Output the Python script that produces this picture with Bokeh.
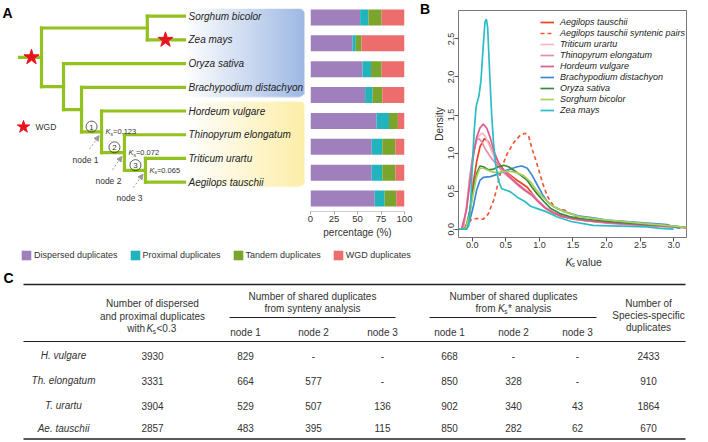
import numpy as np
from bokeh.plotting import figure
from bokeh.layouts import row, column
from bokeh.models import (Range1d, FactorRange, Legend, LegendItem, Arrow,
                          NormalHead, FixedTicker, NumeralTickFormatter, ColumnDataSource)
from bokeh.core.properties import value
from bokeh.embed import file_html
from bokeh.resources import INLINE

FONT = "Liberation Sans"
TXT = "#222222"

# ---------------- data: panel A ----------------
species = ["Sorghum bicolor", "Zea mays", "Oryza sativa", "Brachypodium distachyon",
           "Hordeum vulgare", "Thinopyrum elongatum", "Triticum urartu", "Aegilops tauschii"]
dup_types = ["Dispersed duplicates", "Proximal duplicates", "Tandem duplicates", "WGD duplicates"]
dispersed = [52.8, 44.7, 55.3, 58.1, 70.4, 65.1, 65.1, 68.3]
proximal = [8.8, 3.5, 9.1, 7.7, 13.1, 11.3, 11.3, 10.6]
tandem = [14.1, 6.0, 11.3, 10.6, 9.5, 14.1, 14.1, 12.3]
wgd = [24.3, 45.8, 24.3, 23.6, 7.0, 9.5, 9.5, 8.8]
dup_colors = ["#a07fbd", "#22b4bd", "#7ba42c", "#ec6d6c"]
pct_ticks = [0, 25, 50, 75, 100]

# tree: (node, children, depth)   depth: root = 0, tips = 1
tree_nodes = [
    ("root", ["SbZm", "lower"], 0.0),
    ("SbZm", ["Sorghum bicolor", "Zea mays"], 0.74),
    ("lower", ["Oryza sativa", "BdClade"], 0.154),
    ("BdClade", ["Brachypodium distachyon", "node1"], 0.28),
    ("node1", ["Hordeum vulgare", "node2"], 0.42),
    ("node2", ["Thinopyrum elongatum", "node3"], 0.58),
    ("node3", ["Triticum urartu", "Aegilops tauschii"], 0.727),
]
root_stem = -0.154
wgd_events = [("root", -0.07), ("Zea mays", 0.867)]
ks_nodes = ["node1", "node2", "node3"]
ks_values = ["0.123", "0.072", "0.065"]
node_names = ["node 1", "node 2", "node 3"]
node_numbers = ["1", "2", "3"]

# ---------------- data: panel B ----------------
ks_x_aet = [-0.2, -0.12, -0.06, -0.03, 0.015, 0.065, 0.115, 0.18, 0.24, 0.29, 0.37, 0.44, 0.54, 0.64, 0.74,
            0.82, 0.89, 0.97, 1.07, 1.17, 1.32, 1.47, 1.6, 1.8, 2.0, 2.3, 2.6, 2.9, 3.2]
ks_y_aet = [0.0, 0.0, 0.1, 0.25, 0.6, 0.88, 1.08, 1.19, 1.15, 1.04, 0.88, 0.80, 0.73, 0.66, 0.60,
            0.55, 0.47, 0.38, 0.29, 0.23, 0.17, 0.14, 0.12, 0.10, 0.09, 0.07, 0.06, 0.04, 0.02]
ks_x_syn = [-0.2, -0.11, -0.06, -0.01, 0.065, 0.165, 0.24, 0.32, 0.37, 0.44, 0.52, 0.62, 0.72, 0.79, 0.84,
            0.89, 0.97, 1.05, 1.12, 1.2, 1.27, 1.37, 1.47, 1.61, 1.8, 2.0, 2.3, 2.6, 2.9, 3.2]
ks_y_syn = [0.0, 0.0, 0.07, 0.13, 0.14, 0.13, 0.2, 0.38, 0.55, 0.81, 0.99, 1.14, 1.24, 1.26, 1.22,
            1.06, 0.84, 0.6, 0.43, 0.32, 0.27, 0.25, 0.2, 0.14, 0.12, 0.1, 0.08, 0.06, 0.04, 0.02]
ks_x_tur = [-0.2, -0.135, -0.085, -0.035, 0.015, 0.065, 0.14, 0.19, 0.27, 0.34, 0.42, 0.49, 0.59, 0.69,
            0.79, 0.89, 0.99, 1.1, 1.22, 1.37, 1.5, 1.7, 2.0, 2.3, 2.6, 2.9, 3.2]
ks_y_tur = [0.0, 0.0, 0.29, 0.67, 1.0, 1.19, 1.26, 1.23, 1.07, 0.92, 0.84, 0.76, 0.67, 0.59,
            0.52, 0.46, 0.37, 0.28, 0.22, 0.17, 0.14, 0.11, 0.09, 0.07, 0.05, 0.04, 0.02]
ks_x_tel = [-0.2, -0.135, -0.085, -0.035, 0.015, 0.065, 0.1, 0.14, 0.19, 0.27, 0.37, 0.47, 0.59, 0.69,
            0.79, 0.89, 0.99, 1.1, 1.22, 1.37, 1.5, 1.7, 2.0, 2.3, 2.6, 2.9, 3.2]
ks_y_tel = [0.0, 0.0, 0.29, 0.69, 1.0, 1.17, 1.19, 1.15, 1.06, 0.95, 0.84, 0.74, 0.65, 0.57,
            0.5, 0.44, 0.35, 0.27, 0.21, 0.16, 0.13, 0.11, 0.08, 0.06, 0.05, 0.03, 0.02]
ks_x_hvu = [-0.2, -0.16, -0.085, -0.035, 0.015, 0.065, 0.115, 0.165, 0.216, 0.27, 0.32, 0.39, 0.49, 0.59,
            0.69, 0.79, 0.89, 0.99, 1.1, 1.22, 1.37, 1.5, 1.7, 2.0, 2.3, 2.6, 2.9, 3.2]
ks_y_hvu = [0.0, 0.0, 0.25, 0.6, 0.95, 1.2, 1.33, 1.38, 1.33, 1.2, 1.03, 0.88, 0.75, 0.66,
            0.58, 0.51, 0.45, 0.36, 0.27, 0.21, 0.16, 0.14, 0.11, 0.09, 0.07, 0.05, 0.04, 0.02]
ks_x_bdi = [-0.2, -0.1, -0.035, 0.015, 0.065, 0.115, 0.165, 0.27, 0.37, 0.47, 0.57, 0.67, 0.74, 0.82,
            0.89, 0.97, 1.05, 1.12, 1.22, 1.37, 1.6, 1.8, 2.0, 2.3, 2.6, 2.9, 3.0, 3.1]
ks_y_bdi = [0.0, 0.0, 0.12, 0.29, 0.51, 0.64, 0.68, 0.69, 0.72, 0.76, 0.79, 0.82, 0.83, 0.8,
            0.71, 0.58, 0.45, 0.36, 0.29, 0.23, 0.17, 0.15, 0.12, 0.1, 0.08, 0.06, 0.03, 0.01]
ks_x_osa = [-0.2, -0.1, -0.035, 0.015, 0.065, 0.115, 0.165, 0.24, 0.32, 0.39, 0.47, 0.54, 0.64, 0.72,
            0.82, 0.89, 0.97, 1.07, 1.17, 1.32, 1.47, 1.6, 2.0, 2.5, 3.0, 3.2]
ks_y_osa = [0.0, 0.0, 0.25, 0.51, 0.73, 0.83, 0.82, 0.78, 0.79, 0.82, 0.84, 0.82, 0.76, 0.71,
            0.64, 0.55, 0.46, 0.36, 0.27, 0.2, 0.16, 0.14, 0.1, 0.07, 0.04, 0.02]
ks_x_sbi = [-0.2, -0.1, -0.035, 0.015, 0.065, 0.115, 0.165, 0.27, 0.37, 0.47, 0.57, 0.67, 0.77, 0.87,
            0.94, 1.02, 1.12, 1.22, 1.37, 1.47, 1.6, 2.0, 2.5, 3.0, 3.2]
ks_y_sbi = [0.0, 0.0, 0.2, 0.46, 0.69, 0.8, 0.8, 0.76, 0.74, 0.76, 0.76, 0.74, 0.7, 0.62,
            0.53, 0.45, 0.36, 0.29, 0.23, 0.2, 0.16, 0.12, 0.08, 0.04, 0.02]
ks_x_zma = [-0.2, -0.08, -0.05, -0.02, 0.0, 0.03, 0.06, 0.1, 0.13, 0.16, 0.19, 0.21, 0.23, 0.26, 0.29,
            0.32, 0.35, 0.39, 0.44, 0.57, 0.67, 0.79, 0.87, 0.97, 1.1, 1.27, 1.47, 1.8, 2.2, 2.6, 2.8, 3.0]
ks_y_zma = [0.0, 0.0, 0.05, 0.4, 0.8, 1.3, 1.62, 1.75, 1.95, 2.35, 2.72, 2.76, 2.65, 2.05, 1.5,
            1.1, 0.85, 0.64, 0.53, 0.49, 0.42, 0.36, 0.30, 0.27, 0.23, 0.16, 0.1, 0.05, 0.04, 0.03, 0.01, 0.0]
ks_names = ["Aegilops tauschii", "Aegilops tauschii syntenic pairs", "Triticum urartu",
            "Thinopyrum elongatum", "Hordeum vulgare", "Brachypodium distachyon",
            "Oryza sativa", "Sorghum bicolor", "Zea mays"]
ks_colors = ["#e8431f", "#ee5a33", "#f7b8c9", "#e68cb0", "#df5a8c", "#3f87d6", "#3a8a3c", "#a9d05c", "#2bbcc6"]
ks_dashes = ["solid", "4 3", "solid", "solid", "solid", "solid", "solid", "solid", "solid"]
ks_series = [(ks_x_aet, ks_y_aet), (ks_x_syn, ks_y_syn), (ks_x_tur, ks_y_tur), (ks_x_tel, ks_y_tel),
             (ks_x_hvu, ks_y_hvu), (ks_x_bdi, ks_y_bdi), (ks_x_osa, ks_y_osa), (ks_x_sbi, ks_y_sbi),
             (ks_x_zma, ks_y_zma)]
ks_xticks = [0.0, 0.5, 1.0, 1.5, 2.0, 2.5, 3.0]
dens_yticks = [0.0, 0.5, 1.0, 1.5, 2.0, 2.5]

# ---------------- data: panel C ----------------
tbl_species = ["H. vulgare", "Th. elongatum", "T. urartu", "Ae. tauschii"]
n_disp_prox = [3930, 3331, 3904, 2857]
syn_node1 = [829, 664, 529, 483]
syn_node2 = [None, 577, 507, 395]
syn_node3 = [None, None, 136, 115]
ksa_node1 = [668, 850, 902, 850]
ksa_node2 = [None, 328, 340, 282]
ksa_node3 = [None, None, 43, 62]
species_specific = [2433, 910, 1864, 670]


def bare(p):
    p.xgrid.visible = False
    p.ygrid.visible = False
    return p


# =============== Panel A : tree ===============
XU, YU = 143.0, 27.5          # screen px per tree unit / per leaf
GREEN = "#93c11f"
pT = bare(figure(width=306, height=240, x_range=Range1d(-41 / XU, 265 / XU), y_range=Range1d(-8.236, 0.491),
                 output_backend="svg", toolbar_location=None, x_axis_location=None, y_axis_location=None,
                 min_border=0, outline_line_color=None))


def grad_box(w, h, rgb, radius=7):
    img = np.zeros((h, w), dtype=np.uint32)
    v = img.view(dtype=np.uint8).reshape((h, w, 4))
    t = np.linspace(0.0, 1.0, w)[None, :] * np.ones((h, 1))
    for k in range(3):
        v[:, :, k] = np.clip(255 + (rgb[k] - 255) * t, 0, 255).astype(np.uint8)
    yy, xx = np.mgrid[0:h, 0:w]
    cx = np.clip(xx, radius, w - 1 - radius)
    cy = np.clip(yy, radius, h - 1 - radius)
    d = np.hypot(xx - cx, yy - cy)
    v[:, :, 3] = np.clip((radius + 0.5 - d) * 255, 0, 255).astype(np.uint8)
    return img


box_x0, box_dw = 1.007, 0.832
pT.image_rgba(image=[grad_box(119, 103, (158, 184, 228))], x=box_x0, y=-3.44, dw=box_dw, dh=3.75)
pT.image_rgba(image=[grad_box(119, 100, (253, 238, 168))], x=box_x0, y=-7.22, dw=box_dw, dh=3.64)

node_x = {s: 1.0 for s in species}
node_y = {s: -float(i) for i, s in enumerate(species)}
for name, children, depth in reversed(tree_nodes):
    node_x[name] = depth
    node_y[name] = float(np.mean([node_y[c] for c in children]))

x0s, y0s, x1s, y1s = [], [], [], []
for name, children, depth in tree_nodes:
    cys = [node_y[c] for c in children]
    x0s += [depth]; y0s += [min(cys)]; x1s += [depth]; y1s += [max(cys)]
    for c in children:
        x0s += [depth]; y0s += [node_y[c]]; x1s += [node_x[c]]; y1s += [node_y[c]]
x0s += [root_stem]; y0s += [node_y["root"]]; x1s += [0.0]; y1s += [node_y["root"]]
pT.segment(x0s, y0s, x1s, y1s, line_color=GREEN, line_width=3.2, line_cap="square")

pT.text(x=[node_x[s] for s in species], y=[node_y[s] for s in species], text=species,
        x_offset=4, text_font=value(FONT), text_font_style="italic", text_font_size="10px",
        text_baseline="middle", text_color=TXT)

STAR = "#e8141c"
pT.scatter(x=[d for _, d in wgd_events], y=[node_y[n] for n, _ in wgd_events], marker="star",
           size=16, fill_color=STAR, line_color=STAR)
# WGD key
pT.scatter(x=[(23 - 41) / XU], y=[-4.67], marker="star", size=13, fill_color=STAR, line_color=STAR)
pT.text(x=[(35 - 41) / XU], y=[-4.67], text=["WGD"], text_font=value(FONT), text_font_size="8.5px",
        text_baseline="middle", text_color="#333333")
pT.text(x=[-39 / XU], y=[0.45], text=["A"], text_font=value(FONT), text_font_style="bold",
        text_font_size="14px", text_baseline="top", text_color="black")

kx = [node_x[n] for n in ks_nodes]
ky = [node_y[n] for n in ks_nodes]
# circled node numbers
pT.scatter(x=[x - 10 / XU for x in kx], y=[y + 6 / YU for y in ky], marker="circle", size=11,
           fill_color=None, line_color="#333333", line_width=0.8)
pT.text(x=[x - 10 / XU for x in kx], y=[y + 6 / YU for y in ky], text=node_numbers, y_offset=0.5,
        text_font=value(FONT), text_font_size="8px", text_align="center", text_baseline="middle",
        text_color="#333333")
# Ks labels
pT.text(x=kx, y=ky, text=["K"] * 3, x_offset=4, text_font=value(FONT), text_font_style="italic",
        text_font_size="7.5px", text_baseline="middle", text_color="#333333")
pT.text(x=kx, y=ky, text=["s"] * 3, x_offset=9, y_offset=2, text_font=value(FONT),
        text_font_size="5px", text_baseline="middle", text_color="#333333")
pT.text(x=kx, y=ky, text=["=" + v for v in ks_values], x_offset=11.5, text_font=value(FONT),
        text_font_size="7.5px", text_baseline="middle", text_color="#333333")
# node names + dashed arrows
pT.text(x=kx, y=ky, text=node_names, x_offset=-16, y_offset=28, text_font=value(FONT),
        text_font_size="8.5px", text_align="center", text_baseline="middle", text_color="#333333")
for x, y in zip(kx, ky):
    pT.add_layout(Arrow(x_start=x - 12 / XU, y_start=y - 20 / YU, x_end=x - 2.5 / XU, y_end=y - 4.5 / YU,
                        line_color="#9a9a9a", line_width=1, line_dash="2 2",
                        end=NormalHead(size=5, fill_color="#9a9a9a", line_color="#9a9a9a")))

# =============== Panel A : stacked bars ===============
src = ColumnDataSource(dict(species=species, dispersed=dispersed, proximal=proximal,
                            tandem=tandem, wgd=wgd))
pBar = bare(figure(width=112, height=240, y_range=FactorRange(factors=list(reversed(species))),
                   x_range=Range1d(0, 100), output_backend="svg", toolbar_location=None,
                   y_axis_location=None, min_border_left=4, min_border_right=14, min_border_top=4,
                   min_border_bottom=24, outline_line_color=None))
pBar.hbar_stack(["dispersed", "proximal", "tandem", "wgd"], y="species", height=0.62,
                fill_color=dup_colors, line_color=None, source=src)
pBar.xaxis.ticker = FixedTicker(ticks=pct_ticks)
pBar.xaxis.axis_label = "percentage (%)"
pBar.xaxis.axis_line_color = "#cccccc"
pBar.xaxis.major_tick_line_color = "#aaaaaa"
pBar.xaxis.minor_tick_line_color = None
pBar.xaxis.major_tick_out = 3
pBar.xaxis.major_tick_in = 0
pBar.xaxis.major_label_standoff = 1
pBar.xaxis.axis_label_standoff = 2
pBar.xaxis.major_label_text_font = FONT
pBar.xaxis.major_label_text_font_size = "9.5px"
pBar.xaxis.major_label_text_color = "#333333"
pBar.xaxis.axis_label_text_font = FONT
pBar.xaxis.axis_label_text_font_size = "10px"
pBar.xaxis.axis_label_text_font_style = "normal"
pBar.xaxis.axis_label_text_color = "#333333"

# =============== Panel A : legend strip ===============
strip = bare(figure(width=418, height=28, x_range=Range1d(0, 1), y_range=Range1d(0, 1),
                    output_backend="svg", toolbar_location=None, x_axis_location=None,
                    y_axis_location=None, min_border=0, outline_line_color=None))
items = []
for lab, col in zip(dup_types, dup_colors):
    r = strip.quad(left=[5], right=[6], bottom=[5], top=[6], fill_color=col, line_color=None)
    items.append(LegendItem(label=lab, renderers=[r]))
leg = Legend(items=items, location=(20, 7), orientation="horizontal", spacing=11, glyph_width=12,
             glyph_height=12, label_height=12, label_standoff=2, padding=0, margin=0,
             border_line_color=None, background_fill_alpha=0, label_text_font=FONT,
             label_text_font_size="9px", label_text_color="#333333")
strip.add_layout(leg)

# =============== Panel B : "B" tag ===============
pBtag = bare(figure(width=12, height=268, x_range=Range1d(418, 430), y_range=Range1d(268, 0),
                    output_backend="svg", toolbar_location=None, x_axis_location=None,
                    y_axis_location=None, min_border=0, outline_line_color=None))
pBtag.text(x=[419.5], y=[8.5], text=["B"], text_font=value(FONT), text_font_style="bold",
           text_font_size="14px", text_baseline="middle", text_color="black")

# =============== Panel B : density ===============
pB = bare(figure(width=264, height=254, x_range=Range1d(-0.204, 3.19), y_range=Range1d(-0.11, 2.874),
                 output_backend="svg", toolbar_location=None, min_border_left=28, min_border_right=8,
                 min_border_top=10, min_border_bottom=17, outline_line_color="#777777"))
ks_items = []
for (xs, ys), nm, col, dash in zip(ks_series, ks_names, ks_colors, ks_dashes):
    r = pB.line(xs, ys, line_color=col, line_width=1.7, line_dash=dash)
    ks_items.append(LegendItem(label=nm, renderers=[r]))
legB = Legend(items=ks_items, location=(82, 122), glyph_width=14, glyph_height=10, label_height=10,
              label_standoff=6, spacing=1, padding=0, margin=0, border_line_color=None,
              background_fill_alpha=0, label_text_font=FONT, label_text_font_style="italic",
              label_text_font_size="9px", label_text_color=TXT)
pB.add_layout(legB)
pB.xaxis.ticker = FixedTicker(ticks=ks_xticks)
pB.yaxis.ticker = FixedTicker(ticks=dens_yticks)
pB.xaxis.formatter = NumeralTickFormatter(format="0.0")
pB.yaxis.formatter = NumeralTickFormatter(format="0.0")
pB.yaxis.major_label_orientation = "vertical"
pB.axis.axis_line_color = None
pB.axis.major_tick_line_color = "#555555"
pB.axis.minor_tick_line_color = None
pB.axis.major_tick_out = 4
pB.axis.major_tick_in = 0
pB.xaxis.major_label_standoff = 0
pB.yaxis.major_label_standoff = 0
pB.axis.major_label_text_font = FONT
pB.axis.major_label_text_font_size = "9px"
pB.axis.major_label_text_color = "#333333"
pB.yaxis.axis_label = "Density"
pB.yaxis.axis_label_text_font = FONT
pB.yaxis.axis_label_text_font_size = "10px"
pB.yaxis.axis_label_text_font_style = "normal"
pB.yaxis.axis_label_text_color = "#333333"
pB.yaxis.axis_label_standoff = 1

# x-axis title strip for panel B ("Ks value")
pBx = bare(figure(width=264, height=14, x_range=Range1d(430, 694), y_range=Range1d(268, 254),
                  output_backend="svg", toolbar_location=None, x_axis_location=None,
                  y_axis_location=None, min_border=0, outline_line_color=None))
pBx.text(x=[554], y=[261], text=["K"], text_font=value(FONT), text_font_style="italic",
         text_font_size="10.5px", text_baseline="middle", text_color="#333333")
pBx.text(x=[560.8], y=[263.5], text=["s"], text_font=value(FONT), text_font_style="italic",
         text_font_size="7px", text_baseline="middle", text_color="#333333")
pBx.text(x=[567], y=[261], text=["value"], text_font=value(FONT),
         text_font_size="10.5px", text_baseline="middle", text_color="#333333")

# =============== Panel C : table ===============
tbl = bare(figure(width=706, height=173, x_range=Range1d(0, 706), y_range=Range1d(441, 268),
                  output_backend="svg", toolbar_location=None, x_axis_location=None,
                  y_axis_location=None, min_border=0, outline_line_color=None))
col_x = [63, 152, 245, 313, 382, 449, 513, 577, 648]
row_y = [355, 380, 405, 427.5]
tbl.segment(x0=[23, 23, 23, 229, 429], y0=[284, 341, 438.5, 317, 317],
            x1=[685, 685, 685, 395, 596], y1=[284, 341, 438.5, 317, 317],
            line_width=[1.5, 1.1, 1.5, 1.0, 1.0], line_color="#222222")
tbl.text(x=[3], y=[277.5], text=["C"], text_font=value(FONT), text_font_style="bold",
         text_font_size="14px", text_baseline="middle", text_align="left", text_color="black")

TC = "#333333"
tkw = dict(text_font=value(FONT), text_font_size="10px", text_baseline="middle", text_color=TC)
hdr = [("Number of dispersed", 152, 303), ("and proximal duplicates", 152, 315.5),
       ("Number of shared duplicates", 312, 296), ("from synteny analysis", 312, 308),
       ("Number of shared duplicates", 513, 296),
       ("Number of", 648, 302.5), ("Species-specific", 648, 314.5), ("duplicates", 648, 326.5)]
tbl.text(x=[h[1] for h in hdr], y=[h[2] for h in hdr], text=[h[0] for h in hdr],
         text_align="center", **tkw)
sub_labels = ["node 1", "node 2", "node 3"] * 2
tbl.text(x=col_x[2:8], y=[332] * 6, text=sub_labels, text_align="center", **tkw)
# "with Ks<0.3"
tbl.text(x=[144.5], y=[328], text=["with"], text_align="right", **tkw)
tbl.text(x=[146], y=[328], text=["K"], text_align="left", text_font_style="italic", **tkw)
tbl.text(x=[152.3], y=[330.5], text=["s"], text_align="left", text_font=value(FONT),
         text_font_size="6.5px", text_baseline="middle", text_color=TC)
tbl.text(x=[156], y=[328], text=["<0.3"], text_align="left", **tkw)
# "from Ks* analysis"
tbl.text(x=[475], y=[308], text=["from"], text_align="left", **tkw)
tbl.text(x=[497.5], y=[308], text=["K"], text_align="left", text_font_style="italic", **tkw)
tbl.text(x=[503.8], y=[310.5], text=["s"], text_align="left", text_font=value(FONT),
         text_font_size="6.5px", text_baseline="middle", text_color=TC)
tbl.text(x=[507.5], y=[308], text=["*"], text_align="left", **tkw)
tbl.text(x=[514.5], y=[308], text=["analysis"], text_align="left", **tkw)

tbl.text(x=[col_x[0]] * 4, y=row_y, text=tbl_species, text_align="center",
         text_font_style="italic", **tkw)
cols = [n_disp_prox, syn_node1, syn_node2, syn_node3, ksa_node1, ksa_node2, ksa_node3, species_specific]
cx, cy, ct = [], [], []
for j, col in enumerate(cols):
    for i, v in enumerate(col):
        cx.append(col_x[j + 1]); cy.append(row_y[i]); ct.append("-" if v is None else str(v))
tbl.text(x=cx, y=cy, text=ct, text_align="center", **tkw)

top_left = column(row(pT, pBar), strip)
top_right = row(pBtag, column(pB, pBx))
layout = column(row(top_left, top_right), tbl)
open("out.html", "w").write(file_html(layout, INLINE))
